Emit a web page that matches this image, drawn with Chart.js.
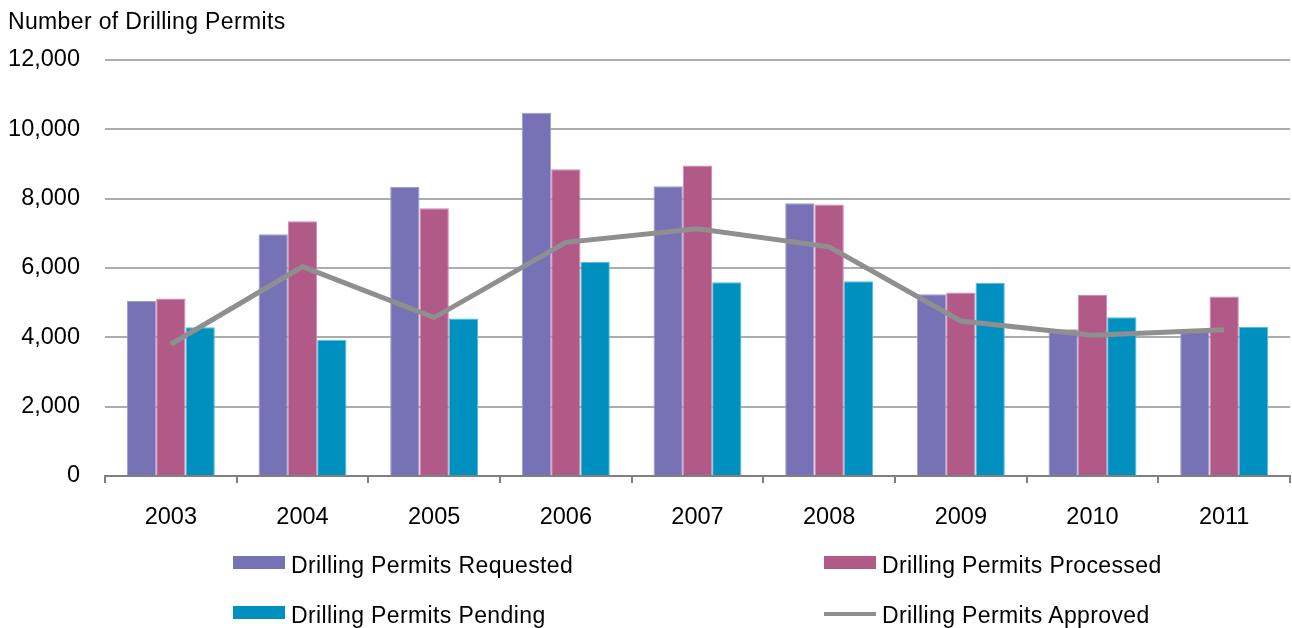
<!DOCTYPE html>
<html>
<head>
<meta charset="utf-8">
<script src="https://cdn.jsdelivr.net/npm/chart.js@4/dist/chart.umd.min.js"></script>
<style>
  html, body { margin: 0; padding: 0; background: #fff; }
  #wrap { position: relative; width: 1292px; height: 628px; font-family: "Liberation Sans", Arial, sans-serif; }
  #permitChart { position: absolute; left: 0; top: 0; }
  #yTitle { position: absolute; left: 8px; top: 8px; font-size: 23px; letter-spacing: 0.35px; color: #000; white-space: nowrap; }
  .legendItem { position: absolute; font-size: 23px; letter-spacing: 0.38px; color: #000; white-space: nowrap; height: 26px; line-height: 26px; }
  .legendItem .swatch { position: absolute; left: 0; width: 52px; }
  .legendItem .label { position: absolute; left: 58px; top: 0; }
</style>
</head>
<body>
<div id="wrap">
  <canvas id="permitChart" width="1292" height="628"></canvas>
  <div id="yTitle">Number of Drilling Permits</div>
  <div id="legend"></div>
</div>
<script>
const years = ["2003", "2004", "2005", "2006", "2007", "2008", "2009", "2010", "2011"];
const requested = [5050, 6970, 8340, 10480, 8360, 7870, 5240, 4230, 4180];
const processed = [5120, 7350, 7720, 8850, 8960, 7830, 5290, 5220, 5180];
const pending = [4290, 3930, 4540, 6180, 5590, 5620, 5570, 4580, 4300];
const approved = [3800, 6040, 4570, 6740, 7130, 6610, 4470, 4060, 4220];
const yTicks = [0, 2000, 4000, 6000, 8000, 10000, 12000];

const seriesNames = ["Drilling Permits Requested", "Drilling Permits Processed", "Drilling Permits Pending", "Drilling Permits Approved"];
const seriesColors = ["#7672b5", "#b15a88", "#0090c0", "#8f8f8f"];
const seriesEdges = ["#a09dd0", "#d08bae", "#4fc0e0", "#8f8f8f"];

const ctx = document.getElementById("permitChart").getContext("2d");

function barSet(i, values) {
  return {
    type: "bar",
    label: seriesNames[i],
    data: values,
    backgroundColor: seriesColors[i],
    borderColor: seriesEdges[i],
    borderWidth: 1,
    order: 2
  };
}

const myChart = new Chart(ctx, {
  data: {
    labels: years,
    datasets: [
      barSet(0, requested),
      barSet(1, processed),
      barSet(2, pending),
      {
        type: "line",
        label: seriesNames[3],
        data: approved,
        borderColor: seriesColors[3],
        borderWidth: 5,
        pointRadius: 0,
        tension: 0,
        fill: false,
        order: 1
      }
    ]
  },
  options: {
    responsive: false,
    animation: false,
    layout: { padding: { top: 60, right: 2, bottom: 0, left: 0 } },
    datasets: {
      bar: { categoryPercentage: 0.668, barPercentage: 1 }
    },
    plugins: {
      legend: { display: false },
      tooltip: { enabled: false }
    },
    scales: {
      x: {
        offset: true,
        grid: {
          offset: true,
          drawOnChartArea: false,
          drawTicks: true,
          tickLength: 7,
          color: "#808080",
          lineWidth: 2
        },
        border: { display: true, color: "#808080", width: 2 },
        ticks: {
          color: "#000",
          padding: 20,
          font: { family: "'Liberation Sans', Arial, sans-serif", size: 23.5 }
        },
        afterFit: function (scale) { scale.height = 152; }
      },
      y: {
        min: 0,
        max: 12000,
        afterBuildTicks: function (scale) {
          scale.ticks = yTicks.map(v => ({ value: v }));
        },
        grid: { color: "#a7adb0", lineWidth: 2, drawTicks: false },
        border: { display: false },
        ticks: {
          color: "#000",
          padding: 25,
          font: { family: "'Liberation Sans', Arial, sans-serif", size: 23.5 },
          callback: function (v) { return v.toLocaleString("en-US"); }
        },
        afterFit: function (scale) { scale.width = 105; }
      }
    }
  }
});

// legend in two columns, like the original
const legendPos = [[233, 552], [824, 552], [233, 602], [824, 602]];
const legendBox = document.getElementById("legend");
seriesNames.forEach((name, i) => {
  const item = document.createElement("div");
  item.className = "legendItem";
  item.style.left = legendPos[i][0] + "px";
  item.style.top = legendPos[i][1] + "px";
  const sw = document.createElement("div");
  sw.className = "swatch";
  sw.style.background = seriesColors[i];
  if (i === 3) {
    sw.style.top = "10px";
    sw.style.height = "4px";
  } else {
    sw.style.top = "4px";
    sw.style.height = "13px";
  }
  const lb = document.createElement("div");
  lb.className = "label";
  lb.textContent = name;
  item.appendChild(sw);
  item.appendChild(lb);
  legendBox.appendChild(item);
});
</script>
</body>
</html>
